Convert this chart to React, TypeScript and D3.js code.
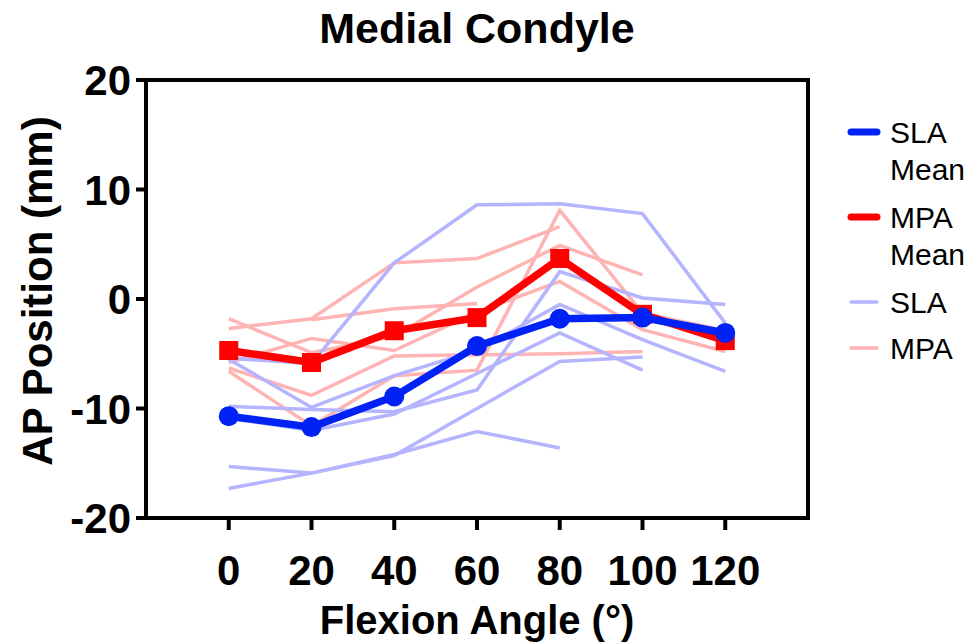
import * as d3 from 'd3';

// flexion angles (deg)
const angles = [0, 20, 40, 60, 80, 100, 120];
const yTicks = [-20, -10, 0, 10, 20];

// group means
const slaMean = [-10.7, -11.7, -8.9, -4.3, -1.8, -1.7, -3.1];
const mpaMean = [-4.7, -5.8, -2.9, -1.7, 3.7, -1.4, -3.8];

// individual knees, null where no measurement
const slaKnees: (number | null)[][] = [
  [-5.4, -5.9, 3.3, 8.6, 8.7, 7.8, -2.2],
  [-5.5, -9.9, -7.0, -4.7, -0.5, -3.7, -6.6],
  [-9.8, -10.1, -10.3, -8.3, 2.5, 0.1, -0.5],
  [-15.3, -15.9, -14.2, -12.1, -13.6, null, null],
  [-17.3, -15.9, -14.3, -10.0, -5.7, -5.3, null],
  [-10.9, -12.0, -10.5, -6.8, -3.1, -6.5, null],
];
const mpaKnees: (number | null)[][] = [
  [-2.7, -1.8, 3.3, 3.7, 6.6, null, null],
  [null, -1.9, -0.9, -0.4, null, null, null],
  [-1.8, -4.9, -3.4, 1.1, 4.9, 2.2, null],
  [-5.8, -3.6, -4.7, -1.2, 1.6, -2.8, -4.8],
  [-6.3, -8.8, -5.2, -5.1, -5.0, -4.8, null],
  [-6.6, -11.6, -7.0, -6.5, 8.1, -1.3, -2.9],
];

const BLUE = '#0022f5';
const RED = '#ff0000';
const LIGHT_BLUE = '#b4b4ff';
const LIGHT_RED = '#ffb4b4';

export default function App() {
  const width = 976;
  const height = 644;
  const left = 146, right = 808, top = 80, bottom = 518;

  const x = d3.scaleLinear().domain([-20, 140]).range([left, right]);
  const y = d3.scaleLinear().domain([-20, 20]).range([bottom, top]);

  const line = d3
    .line<number | null>()
    .defined((d) => d != null)
    .x((_, i) => x(angles[i]))
    .y((d) => y(d as number));

  const font = '"Liberation Sans", Arial, sans-serif';

  const legend = [
    { label: ['SLA', 'Mean'], color: BLUE, w: 7, y: 132 },
    { label: ['MPA', 'Mean'], color: RED, w: 7, y: 217 },
    { label: ['SLA'], color: LIGHT_BLUE, w: 3.5, y: 302 },
    { label: ['MPA'], color: LIGHT_RED, w: 3.5, y: 348 },
  ];

  return (
    <svg
      width={width}
      height={height}
      style={{ position: 'absolute', left: 0, top: 0, background: '#fff' }}
      fontFamily={font}
    >
      <text x={477} y={43} textAnchor="middle" fontSize={43} fontWeight="bold">
        Medial Condyle
      </text>

      {/* individual knees */}
      {mpaKnees.map((k, i) => (
        <path key={'m' + i} d={line(k) || ''} fill="none" stroke={LIGHT_RED} strokeWidth={3.5} />
      ))}
      {slaKnees.map((k, i) => (
        <path key={'s' + i} d={line(k) || ''} fill="none" stroke={LIGHT_BLUE} strokeWidth={3.5} />
      ))}

      {/* MPA mean */}
      <path d={line(mpaMean) || ''} fill="none" stroke={RED} strokeWidth={7.5} />
      {mpaMean.map((v, i) => (
        <rect key={'mq' + i} x={x(angles[i]) - 9.5} y={y(v) - 9.5} width={19} height={19} fill={RED} />
      ))}

      {/* SLA mean */}
      <path d={line(slaMean) || ''} fill="none" stroke={BLUE} strokeWidth={7.5} />
      {slaMean.map((v, i) => (
        <circle key={'sc' + i} cx={x(angles[i])} cy={y(v)} r={10} fill={BLUE} />
      ))}

      {/* frame */}
      <rect x={left} y={top} width={right - left} height={bottom - top} fill="none" stroke="#000" strokeWidth={4} />

      {/* y axis */}
      {yTicks.map((t) => (
        <g key={'yt' + t}>
          <line x1={left - 10} x2={left} y1={y(t)} y2={y(t)} stroke="#000" strokeWidth={4} />
          <text x={131} y={y(t) + 15} textAnchor="end" fontSize={42} fontWeight="bold">
            {t}
          </text>
        </g>
      ))}

      {/* x axis */}
      {angles.map((a) => (
        <g key={'xt' + a}>
          <line x1={x(a)} x2={x(a)} y1={bottom} y2={bottom + 12} stroke="#000" strokeWidth={4} />
          <text x={x(a)} y={585} textAnchor="middle" fontSize={42} fontWeight="bold">
            {a}
          </text>
        </g>
      ))}

      <text x={477} y={634} textAnchor="middle" fontSize={40} fontWeight="bold">
        Flexion Angle (°)
      </text>
      <text
        transform={`translate(52, ${(top + bottom) / 2 - 8}) rotate(-90)`}
        textAnchor="middle"
        fontSize={42}
        fontWeight="bold"
      >
        AP Position (mm)
      </text>

      {/* legend */}
      {legend.map((l) => (
        <g key={l.label.join(' ')}>
          <line x1={851} x2={877} y1={l.y} y2={l.y} stroke={l.color} strokeWidth={l.w} strokeLinecap="round" />
          {l.label.map((s, j) => (
            <text key={s} x={890} y={l.y + 11 + j * 37} fontSize={30}>
              {s}
            </text>
          ))}
        </g>
      ))}
    </svg>
  );
}
